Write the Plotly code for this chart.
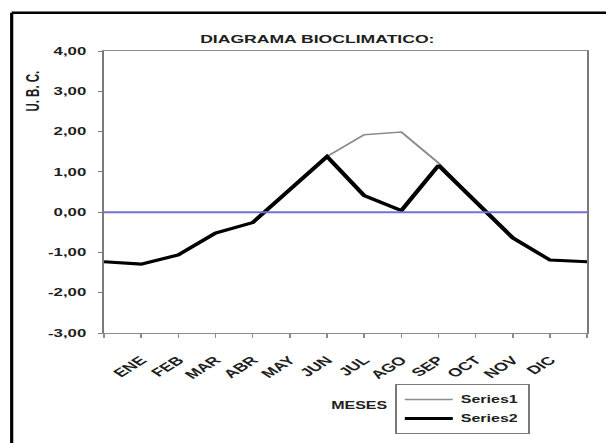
import plotly.graph_objects as go

# Month positions along the x axis (blank at both ends, labels on the inner ticks)
months = ["", "ENE", "FEB", "MAR", "ABR", "MAY", "JUN", "JUL", "AGO", "SEP", "OCT", "NOV", "DIC", ""]
positions = list(range(len(months)))

# U.B.C. values per position
series1 = [-1.23, -1.29, -1.06, -0.52, -0.26, 0.57, 1.38, 1.92, 1.99, 1.22, 0.27, -0.64, -1.19, -1.23]
series2 = [-1.23, -1.29, -1.06, -0.52, -0.26, 0.57, 1.38, 0.41, 0.04, 1.16, 0.27, -0.64, -1.19, -1.23]
baseline = [0.0] * len(months)

y_ticks = [4, 3, 2, 1, 0, -1, -2, -3]
y_tick_text = [f"{v:.2f}".replace(".", ",") for v in y_ticks]

# Figure is laid out narrow and then stretched horizontally in the page
STRETCH = 1.6
W, H = 379, 443
ML, MR, MT, MB = 65, 12, 51, 110
PW, PH = W - ML - MR, H - MT - MB


def px(xp):
    return (xp - ML) / PW


def py(yp):
    return (H - MB - yp) / PH


FONT = dict(family="Liberation Sans, Arial, sans-serif", size=10, color="#1e1e1e", weight="bold")

fig = go.Figure()
fig.add_trace(go.Scatter(x=positions, y=series1, mode="lines", name="Series1",
                         line=dict(color="#8c8c8c", width=1.5)))
fig.add_trace(go.Scatter(x=positions, y=series2, mode="lines", name="Series2",
                         line=dict(color="#000000", width=3)))
fig.add_trace(go.Scatter(x=positions, y=baseline, mode="lines", showlegend=False,
                         line=dict(color="#7272d6", width=2), hoverinfo="skip"))

fig.update_layout(
    width=W, height=H,
    margin=dict(l=ML, r=MR, t=MT, b=MB, autoexpand=False),
    paper_bgcolor="white", plot_bgcolor="white",
    font=FONT,
    showlegend=True,
    legend=dict(x=px(247), y=py(384), xanchor="left", yanchor="top",
                bordercolor="#7a7a7a", borderwidth=1, bgcolor="white",
                font=dict(size=10), itemwidth=30, tracegroupgap=0),
    xaxis=dict(range=[0, len(months) - 1], tickmode="array", tickvals=positions,
               ticktext=months, tickangle=-45, showgrid=False, zeroline=False,
               showline=True, linecolor="#8a8a8a", linewidth=1, mirror=True,
               ticks="outside", ticklen=4, tickcolor="#8a8a8a", automargin=False,
               tickfont=dict(size=11.5), ticklabelstandoff=11),
    yaxis=dict(range=[-3, 4], tickmode="array", tickvals=y_ticks, ticktext=y_tick_text,
               showgrid=False, zeroline=False, showline=True, linecolor="#7a7a7a",
               linewidth=1, mirror=True, ticks="outside", ticklen=3, tickcolor="#7a7a7a",
               automargin=False, tickfont=dict(size=10.5), ticklabelstandoff=5),
    annotations=[
        dict(text="DIAGRAMA BIOCLIMATICO:", xref="paper", yref="paper",
             x=px(198.75), y=py(39), xanchor="center", yanchor="middle",
             showarrow=False, font=dict(size=11)),
        dict(text="U. B. C.", xref="paper", yref="paper", textangle=-90,
             x=px(20.6), y=py(91), xanchor="center", yanchor="middle",
             showarrow=False, font=dict(size=11.5)),
        dict(text="MESES", xref="paper", yref="paper",
             x=px(224), y=py(405), xanchor="center", yanchor="middle",
             showarrow=False, font=dict(size=10)),
    ],
    shapes=[
        dict(type="line", xref="paper", yref="paper", x0=px(7.3), x1=px(W + 5),
             y0=py(12.7), y1=py(12.7), line=dict(color="black", width=2.5)),
        dict(type="line", xref="paper", yref="paper", x0=px(7.3), x1=px(7.3),
             y0=py(12.7), y1=py(H + 5), line=dict(color="black", width=2)),
    ],
)

stretch_js = (
    "document.body.style.margin='0';"
    "var gd=document.getElementById('{plot_id}');"
    "gd.style.transformOrigin='0 0';"
    "gd.style.transform='scaleX(" + str(STRETCH) + ")';"
)

fig.write_html("out.html", config={"displayModeBar": False}, post_script=stretch_js)
